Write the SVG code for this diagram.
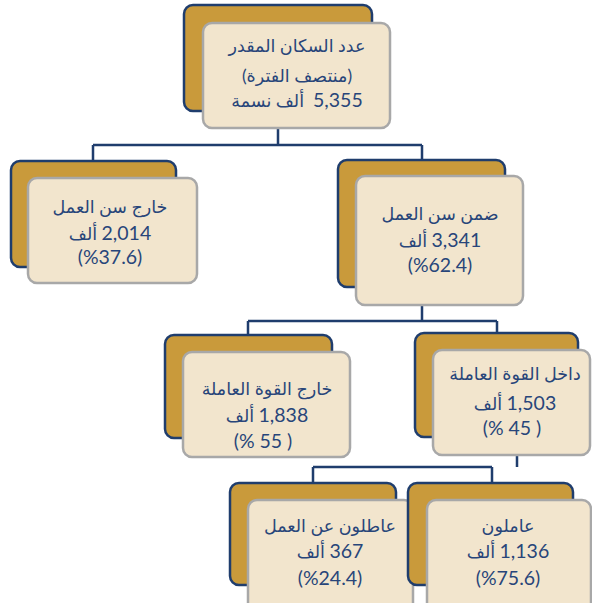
<svg xmlns="http://www.w3.org/2000/svg" width="592" height="603" viewBox="0 0 592 603">
<style>
.back{fill:#c99a3b;stroke:#1f3d6d;stroke-width:2.5}
.front{fill:#f2e5cd;stroke:#a8a8a8;stroke-width:2.5}
.conn{fill:none;stroke:#1f3d6d;stroke-width:2.5}
text{font-family:Lato,"DejaVu Sans","Noto Sans",sans-serif;font-size:17.5px;fill:#28457a;text-anchor:middle}
.n{font-size:19.5px}
</style>
<rect width="592" height="603" fill="#ffffff"/>
<g id="connectors">
<path class="conn" d="M278,128 V145 M93,145 H422 M93,145 V161 M422,145 V160"/>
<path class="conn" d="M422,305 V321 M248,321 H497 M248,321 V335 M497,321 V333"/>
<path class="conn" d="M517,455 V467 M313,467 H492 M313,467 V483 M492,467 V483"/>
</g>
<g id="node-total">
<rect class="back" x="184" y="5" width="188" height="106" rx="9"/>
<rect class="front" x="203" y="23" width="187" height="105" rx="9"/>
<text x="297" y="52" direction="rtl">عدد السكان المقدر</text>
<text x="297" y="82" direction="rtl">(منتصف الفترة)</text>
<text x="297" y="107" direction="rtl"><tspan class="n">5,355</tspan>&#160; ألف نسمة</text>
</g>
<g id="node-outside-age">
<rect class="back" x="11" y="161" width="165" height="106" rx="9"/>
<rect class="front" x="28" y="178" width="169" height="105" rx="9"/>
<text x="110" y="213" direction="rtl">خارج سن العمل</text>
<text x="110" y="240" direction="rtl"><tspan class="n">2,014</tspan> ألف</text>
<text x="110" y="264" class="n">(%37.6)</text>
</g>
<g id="node-working-age">
<rect class="back" x="338" y="160" width="167" height="127" rx="9"/>
<rect class="front" x="356" y="176" width="167" height="129" rx="9"/>
<text x="440" y="220" direction="rtl">ضمن سن العمل</text>
<text x="440" y="247" direction="rtl"><tspan class="n">3,341</tspan> ألف</text>
<text x="440" y="272" class="n">(%62.4)</text>
</g>
<g id="node-outside-labour">
<rect class="back" x="165" y="335" width="167" height="103" rx="9"/>
<rect class="front" x="183" y="352" width="167" height="105" rx="9"/>
<text x="267" y="395" direction="rtl">خارج القوة العاملة</text>
<text x="267" y="422" direction="rtl"><tspan class="n">1,838</tspan> ألف</text>
<text x="263" y="448" class="n">(% 55 )</text>
</g>
<g id="node-labour">
<rect class="back" x="415" y="333" width="163" height="104" rx="9"/>
<rect class="front" x="433" y="350" width="157" height="105" rx="9"/>
<text x="515" y="380" direction="rtl">داخل القوة العاملة</text>
<text x="515" y="410" direction="rtl"><tspan class="n">1,503</tspan> ألف</text>
<text x="512" y="435" class="n">(% 45 )</text>
</g>
<g id="node-unemployed">
<rect class="back" x="230" y="483" width="166" height="102" rx="9"/>
<rect class="front" x="248" y="500" width="165" height="112" rx="9"/>
<text x="330" y="532" direction="rtl">عاطلون عن العمل</text>
<text x="330" y="558" direction="rtl"><tspan class="n">367</tspan> ألف</text>
<text x="330" y="585" class="n">(%24.4)</text>
</g>
<g id="node-employed">
<rect class="back" x="408" y="483" width="165" height="102" rx="9"/>
<rect class="front" x="427" y="500" width="164" height="112" rx="9"/>
<text x="508" y="532" direction="rtl">عاملون</text>
<text x="508" y="558" direction="rtl"><tspan class="n">1,136</tspan> ألف</text>
<text x="508" y="585" class="n">(%75.6)</text>
</g>
</svg>
